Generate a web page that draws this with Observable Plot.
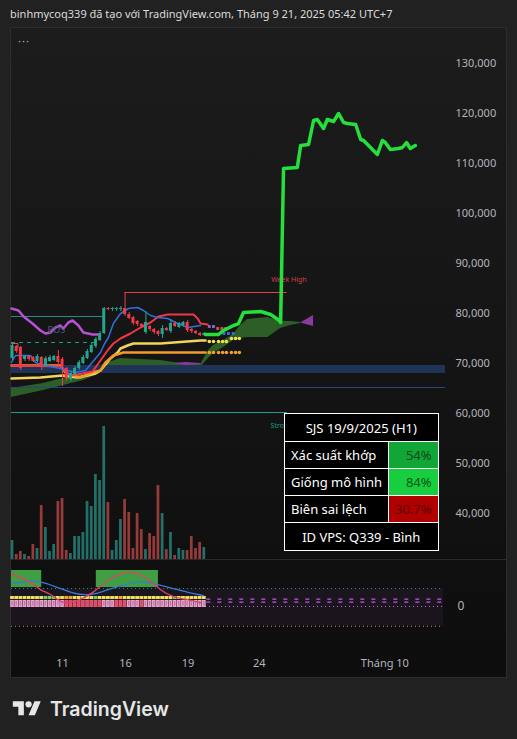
<!DOCTYPE html>
<html><head><meta charset="utf-8">
<script src="https://cdn.jsdelivr.net/npm/d3@7"></script>
<script src="https://cdn.jsdelivr.net/npm/@observablehq/plot@0.6"></script>
<style>
html,body{margin:0;padding:0;background:#212121;}
#page{position:relative;width:517px;height:739px;overflow:hidden;font-family:"Noto Sans",sans-serif;}
#hdr{position:absolute;left:10px;top:6px;font-size:11px;color:#dcdcdc;white-space:nowrap;}
#frame{position:absolute;left:10px;top:27px;width:495px;height:649px;border:1px solid #2d2d2d;background:linear-gradient(#1c1c1c,#0d0d0d);}
#dots{position:absolute;left:18px;top:33px;font-size:11px;color:#b0b0b0;letter-spacing:1px;}
#sep{position:absolute;left:11px;top:559px;width:495px;height:1px;background:#2a2a2a;}
.pl{position:absolute;left:0;}
#tbl{position:absolute;left:284px;top:413px;border-collapse:collapse;font-size:13px;color:#fff;background:#000;}
#tbl td{border:1px solid #fff;padding:0 6px;height:26px;white-space:nowrap;}
#logo{position:absolute;left:12px;top:697px;display:flex;align-items:center;gap:8px;color:#e6e6e6;font-family:Inter,"Noto Sans",sans-serif;font-weight:600;font-size:19.5px;}
</style></head>
<body><div id="page">
<div id="hdr">binhmycoq339 đã tạo với TradingView.com, Tháng 9 21, 2025 05:42 UTC+7</div>
<div id="frame"></div>
<div id="dots">···</div>
<div id="vol" class="pl" style="top:27px"></div>
<div id="price" class="pl" style="top:27px"></div>
<div id="sep"></div>
<div id="osc" class="pl" style="top:560px"></div>
<table id="tbl">
<tr><td colspan="2" style="text-align:center;height:27px">SJS 19/9/2025 (H1)</td></tr>
<tr><td style="width:90px">Xác suất khớp</td><td style="background:#12a637;color:#0d4a17;text-align:right;width:34px">54%</td></tr>
<tr><td>Giống mô hình</td><td style="background:#17cf3e;color:#0b4f18;text-align:right">84%</td></tr>
<tr><td>Biên sai lệch</td><td style="background:#b00000;color:#5a0000;text-align:right">30.7%</td></tr>
<tr><td colspan="2" style="text-align:center;height:27px">ID VPS: Q339 - Bình</td></tr>
</table>
<div id="logo"><svg width="30" height="22" viewBox="0 0 36 28"><path fill="#e6e6e6" d="M14 22H7V11H0V4h14v18zM28 22h-8l7.5-18h8L28 22z"/><circle fill="#e6e6e6" cx="20" cy="8" r="4"/></svg><span>TradingView</span></div>
</div>
<script>
// ---------- DATA ----------
// hourly candles (bar index 0..46)
const open  = [71000,73400,73200,70800,71400,71200,70400,71200,69400,70400,70600,71400,70800,69000,66800,67800,69000,70000,71000,72200,73400,74600,76000,81000,80800,80800,80800,81000,79800,79200,78400,77800,76200,77400,76800,76400,75800,77000,76400,78000,77200,77600,78200,76800,76400,76000,75600];
const high  = [73800,73600,73400,71600,71600,71400,71800,71400,71400,71600,71600,72600,71200,69200,68400,69400,70600,71600,72800,74000,75200,76400,81200,81200,81200,81200,81400,84200,80200,79400,78600,78000,80400,77600,77000,76600,77600,77200,78800,78400,78200,78400,78600,77000,76600,76200,76200];
const low   = [70600,72000,68600,70400,70400,70200,70200,68600,69200,70200,70400,69200,65400,66400,66400,67400,68600,69800,70800,72000,73000,74400,75800,80600,80400,80400,80400,79400,78800,77600,77400,77200,75800,76400,75800,75400,75000,76400,76000,77200,77000,77400,76200,76000,75800,75400,75400];
const close = [73600,72400,69000,71400,70800,70400,71400,69200,71000,71200,71400,70200,69400,67000,68000,69000,70200,71200,72400,73600,74800,76000,81000,80800,81000,81000,81000,79800,79000,78000,77800,77400,78200,76800,76200,75800,77000,76600,78000,77400,78000,78200,76600,76400,76000,75600,76000];
const volume = [190,50,80,50,30,150,110,540,320,80,150,580,610,90,60,230,230,270,580,530,850,790,1330,570,90,190,400,600,470,110,460,300,100,260,230,740,460,100,270,40,110,90,90,230,110,170,120];

// indicator lines: bar position / price
const purpleX = [-0.24,1.44,2.64,4.8,6.71,7.91,9.11,10.3,11.5,12.2,13.4,14.4,15.8,17.0,19.2,20.4];
const purpleY = [81000,80600,79400,78000,76600,76000,76200,77200,77600,77000,78200,78600,77600,76200,75800,75800];
const blueX = [-0.24,0.72,4.32,5.52,7.91,11.5,15.1,17.5,19.9,21.1,22.1,23.0,24.2,25.9,27.8,30.0,31.4,33.1,34.8,37.2,39.6,42.0,45.1];
const blueY = [70200,71600,71600,70200,69600,69000,68200,68600,71000,72200,74000,75200,78000,80000,81000,81200,80600,79600,79200,79000,78000,77200,77600];
const redX = [-0.24,11.5,13.9,16.8,19.2,21.1,22.8,24.2,25.9,28.3,30.7,33.1,35.0,37.2,43.4,44.4,45.1,46.8];
const redY = [69600,69400,67600,68000,68400,70600,72600,74000,75000,76000,77200,78200,79400,79800,79800,79000,78000,77800];
const yellowX = [-0.24,6.71,12.0,15.6,18.0,19.9,21.1,23.5,25.2,25.9,27.6,29.0,35.5,45.1,46.3];
const yellowY = [67000,67200,67600,67200,67600,68000,68600,71000,72200,73000,73600,74000,74000,74600,74600];
const orangeX = [-0.24,11.5,12.9,16.3,19.2,21.1,22.3,24.2,26.6,46.3];
const orangeY = [69600,69600,68000,67200,68200,68600,70200,71600,72200,72200];

// cloud (span top / bottom)
const cloudX   = [-0.24,7.4,17.0,21.1,25.9,35.5,40.3,45.1,47.0,48.2,50.6,53.0,54.7,56.4,61.2,64.3,66.7,69.1];
const cloudTop = [65000,66000,68000,69600,71000,70600,70000,69800,72600,73600,74600,75800,77600,78800,79200,78400,78400,78200];
const cloudBot = [63200,64600,66600,68000,69000,69000,69200,69200,71000,72000,73200,74600,75000,75200,75200,77000,77600,78000];
const purpleCloudX   = [38.6,41.7,45.1, 69.1,72.2];
const purpleCloudTop = [70000,70200,70000, 78100,79600];
const purpleCloudBot = [70000,69600,69800, 78100,77400];
const purpleCloudSeg = [1,1,1,2,2];

// projection (bright green)
const projX = [46.3,49.4,50.6,53.0,54.2,55.4,59.5,61.9,64.0,64.3,65.0,68.3,69.1,71.0,72.2,73.1,74.6,75.5,77.0,78.2,79.4,80.3,82.3,83.5,84.2,87.5,88.7,89.4,90.6,92.6,93.5,94.5,95.4,96.6];
const projY = [75800,75800,76600,77600,78000,80200,80400,79800,78600,78200,109000,109200,113600,113800,118600,118800,117000,118800,118400,120000,118200,118000,117800,114800,114600,111800,114600,114200,112800,113000,113200,114200,113000,113600];

// levels
const zoneBand = [68000, 69600];
const weekHigh  = {name:"Week High", price:84200, from:26.9, to:65.9, labelX:66.3, labelPrice:86800};
const strongLow = {name:"Strong Low", price:60200, from:-0.24, to:65.9, labelX:61.9, labelPrice:57600};
const tealLevel = {price:79400, from:-0.24, to:22.3};
const tealDashed = {price:74200, from:-0.24, to:19.9};
const thinBlue = 65200;
const bracketX = [-0.24,1.3,1.3], bracketY = [74000,74000,73200];

// forecast dots
const dotX = [47.2,48.2,49.4,50.4,51.3,52.5,53.5,54.4];
const dotYellow = [74400,74400,74400,74400,74400,75000,75000,75000];
const dotOrange = [72200,72200,72200,72200,72200,72200,72200,72200];
const sqX = [47.2,48.2,49.2,50.2,51.1,50.7,51.8,52.9];
const sqY = [77400,77400,77000,77000,77000,76000,76000,76000];
const sqC = ["#8a6ad8","#8a6ad8","#e04a5a","#e04a5a","#e04a5a","#3d6fe0","#3d6fe0","#3d6fe0"];

const priceTicks = [40000,50000,60000,70000,80000,90000,100000,110000,120000,130000];
const xTickPos = [12, 27.1, 42.1, 59.2, 89.3];
const xTickLabels = ["11","16","19","24","Tháng 10"];

// oscillator pane
const oscGreenBoxes = [{from:-0.24,to:7.0},{from:20.1,to:35.0}];
const oscBoxRange = [21, 40];
const pinkX = [-0.24,1.9,5.0,6.7,9.1,11.5,13.9,16.3,19.2,22.5,27.3,30.4,33.1,35.5,38.6,41.9,45.1];
const pinkY = [36.7,32.2,25.6,17.8,14.4,4.4,4.4,7.8,14.4,28.9,40,36.7,28.9,17.8,10,7.8,4.4];
const oscBlueX = [-0.24,1.9,5.0,7.4,10.8,14.6,18.0,21.1,25.9,30.7,33.8,38.6,42.0,45.8];
const oscBlueY = [25.6,26.7,28.9,26.7,21.1,14.4,12.2,15.6,23.3,28.9,25.6,20,15.6,12.2];
const topCode    = "YYYYYYYYGGGYYOOYYYYYGYYYYYOYYYYYYYYYYYYGYYYYYYY";
const bottomCode = "PPPPPPPPPPPPPRRRRRRRRRPPPRRRPPPRPPPPPPPPPPPPPPP";
const oscLevels = {upper:20, zero:0, lower:-22};

// ---------- CHARTS ----------
const UP = "#22a68f", DN = "#f03a47";
const xDomain = [-0.24, 103.84];
const style = {background:"transparent", color:"#b2b5be", fontFamily:"'Noto Sans', sans-serif", fontSize:"11px", overflow:"visible"};
const base = {width:517, marginLeft:11, marginRight:72, marginTop:0, style};

const candles = open.map((o,i)=>({i, o, h:high[i], l:low[i], c:close[i], up: close[i]>=o, v: volume[i]}));
const pts = (xs, ys) => xs.map((x,k)=>({x, y: ys[k]}));
const cloud = cloudX.map((x,k)=>({x, t:cloudTop[k], b:cloudBot[k]}));
const pcloud = purpleCloudX.map((x,k)=>({x, t:purpleCloudTop[k], b:purpleCloudBot[k], s:purpleCloudSeg[k]}));

// volume pane (overlay)
document.getElementById("vol").append(Plot.plot({
  ...base, height:532, marginBottom:0,
  x:{domain:xDomain, axis:null},
  y:{domain:[0,5320], axis:null},
  color:{type:"identity"},
  marks:[
    Plot.rect(candles, {x1:d=>d.i-0.33, x2:d=>d.i+0.33, y1:0, y2:"v", fill:d=>d.up?"#22706a":"#963a3a"})
  ]
}));

// price pane
document.getElementById("price").append(Plot.plot({
  ...base, height:532, marginBottom:0,
  x:{domain:xDomain, axis:null},
  y:{domain:[30800,137200], axis:null},
  color:{type:"identity"},
  marks:[
    Plot.areaY(cloud, {x:"x", y1:"b", y2:"t", fill:"#2d5e28", curve:"linear"}),
    Plot.areaY(pcloud, {x:"x", y1:"b", y2:"t", z:"s", fill:"#8a3a9c", curve:"linear"}),
    Plot.rect([zoneBand], {x1:xDomain[0], x2:xDomain[1], y1:d=>d[0], y2:d=>d[1], fill:"#1f3356"}),
    Plot.ruleY([thinBlue], {x1:xDomain[0], x2:xDomain[1], stroke:"#24467a", strokeWidth:1}),
    Plot.ruleY([weekHigh], {y:"price", x1:"from", x2:"to", stroke:"#e0404a", strokeWidth:1}),
    Plot.text([weekHigh], {x:"labelX", y:"labelPrice", text:"name", fill:"#d0404a", fontSize:7, textAnchor:"middle"}),
    Plot.ruleY([strongLow], {y:"price", x1:"from", x2:"to", stroke:"#1e9c8e", strokeWidth:1}),
    Plot.text([strongLow], {x:"labelX", y:"labelPrice", text:"name", fill:"#1e9c8e", fontSize:7, textAnchor:"start"}),
    Plot.ruleY([tealLevel], {y:"price", x1:"from", x2:"to", stroke:"#1f8f85", strokeWidth:1}),
    Plot.ruleY([tealDashed], {y:"price", x1:"from", x2:"to", stroke:"#1e9a8a", strokeWidth:1, strokeDasharray:"4,4"}),
    Plot.line(pts(bracketX, bracketY), {x:"x", y:"y", stroke:"#e04a5a", strokeWidth:1}),
    Plot.line(pts(purpleX, purpleY), {x:"x", y:"y", stroke:"#b651d6", strokeWidth:2.5}),
    Plot.text([{x:10.5, y:76600}], {x:"x", y:"y", text:()=>"BOS", fill:"#4a5d80", fontSize:9}),
    Plot.line(pts(yellowX, yellowY), {x:"x", y:"y", stroke:"#f2d45c", strokeWidth:2.5}),
    Plot.line(pts(orangeX, orangeY), {x:"x", y:"y", stroke:"#f39a2b", strokeWidth:2.5}),
    Plot.line(pts(redX, redY), {x:"x", y:"y", stroke:"#f23645", strokeWidth:2}),
    Plot.line(pts(blueX, blueY), {x:"x", y:"y", stroke:"#2f6fe0", strokeWidth:1.5}),
    Plot.ruleX(candles, {x:"i", y1:"l", y2:"h", stroke:d=>d.up?UP:DN, strokeWidth:1}),
    Plot.rect(candles, {x1:d=>d.i-0.36, x2:d=>d.i+0.36, y1:"o", y2:"c", fill:d=>d.up?UP:DN}),
    Plot.dot(pts(dotX, dotYellow), {x:"x", y:"y", r:1.8, fill:"#f5e050"}),
    Plot.dot(pts(dotX, dotOrange), {x:"x", y:"y", r:1.8, fill:"#f0a030"}),
    Plot.dot(sqX.map((x,k)=>({x, y:sqY[k], c:sqC[k]})), {x:"x", y:"y", symbol:"square", r:1.6, fill:"c"}),
    Plot.line(pts(projX, projY), {x:"x", y:"y", stroke:"#25e03c", strokeWidth:3.5, strokeLinejoin:"round"}),
    Plot.axisY(priceTicks, {anchor:"right", tickSize:0, tickPadding:10, tickFormat:d3.format(","), fill:"#b2b5be", fontSize:11})
  ]
}));

// oscillator pane + time axis
const cells = topCode.split("").map((t,i)=>({i, t:{Y:"#f2e35c",G:"#7ccf5a",O:"#f5a43a"}[t], b:{P:"#e8a2cf",R:"#e8506a"}[bottomCode[i]]}));
const tickMap = new Map(xTickPos.map((p,k)=>[p, xTickLabels[k]]));
document.getElementById("osc").append(Plot.plot({
  ...base, height:118, marginBottom:33,
  x:{domain:xDomain},
  y:{domain:[-43.33,51.11], axis:null},
  color:{type:"identity"},
  marks:[
    Plot.rect([oscLevels], {x1:xDomain[0], x2:103.4, y1:"lower", y2:"upper", fill:"#2a1c30", fillOpacity:0.45}),
    Plot.rect(oscGreenBoxes, {x1:"from", x2:"to", y1:oscBoxRange[0], y2:oscBoxRange[1], fill:"#3f9f42"}),
    Plot.ruleY([oscLevels.upper], {x1:xDomain[0], x2:103.4, stroke:"#1f8a80", strokeDasharray:"1,3"}),
    Plot.ruleY([oscLevels.zero], {x1:46.3, x2:103.4, stroke:"#c070d0", strokeDasharray:"1,3"}),
    Plot.ruleY([oscLevels.lower], {x1:xDomain[0], x2:103.4, stroke:"#d08a30", strokeDasharray:"1,3"}),
    Plot.ruleY([8.3, 4.9], {x1:46.6, x2:103.4, stroke:"#c157e8", strokeWidth:1.3, strokeDasharray:"4,7"}),
    Plot.rect(cells, {x1:d=>d.i-0.45, x2:d=>d.i+0.45, y1:7.8, y2:11.1, fill:"t"}),
    Plot.rect(cells, {x1:d=>d.i-0.45, x2:d=>d.i+0.45, y1:-1.1, y2:6.7, fill:"b"}),
    Plot.rect(cells, {x1:d=>d.i-0.15, x2:d=>d.i+0.15, y1:0.5, y2:5.5, fill:"#b05080", fillOpacity:0.6}),
    Plot.line(pts(oscBlueX, oscBlueY), {x:"x", y:"y", stroke:"#3b78d8", strokeWidth:1.3, curve:"basis"}),
    Plot.line(pts(pinkX, pinkY), {x:"x", y:"y", stroke:"#e0406a", strokeWidth:1.3, curve:"basis"}),
    Plot.axisY([0], {anchor:"right", tickSize:0, tickPadding:12, fill:"#b2b5be", fontSize:12}),
    Plot.axisX(xTickPos, {anchor:"bottom", tickSize:0, tickPadding:14, tickFormat:d=>tickMap.get(d), fill:"#b2b5be", fontSize:11, label:null})
  ]
}));
</script>
</body></html>
